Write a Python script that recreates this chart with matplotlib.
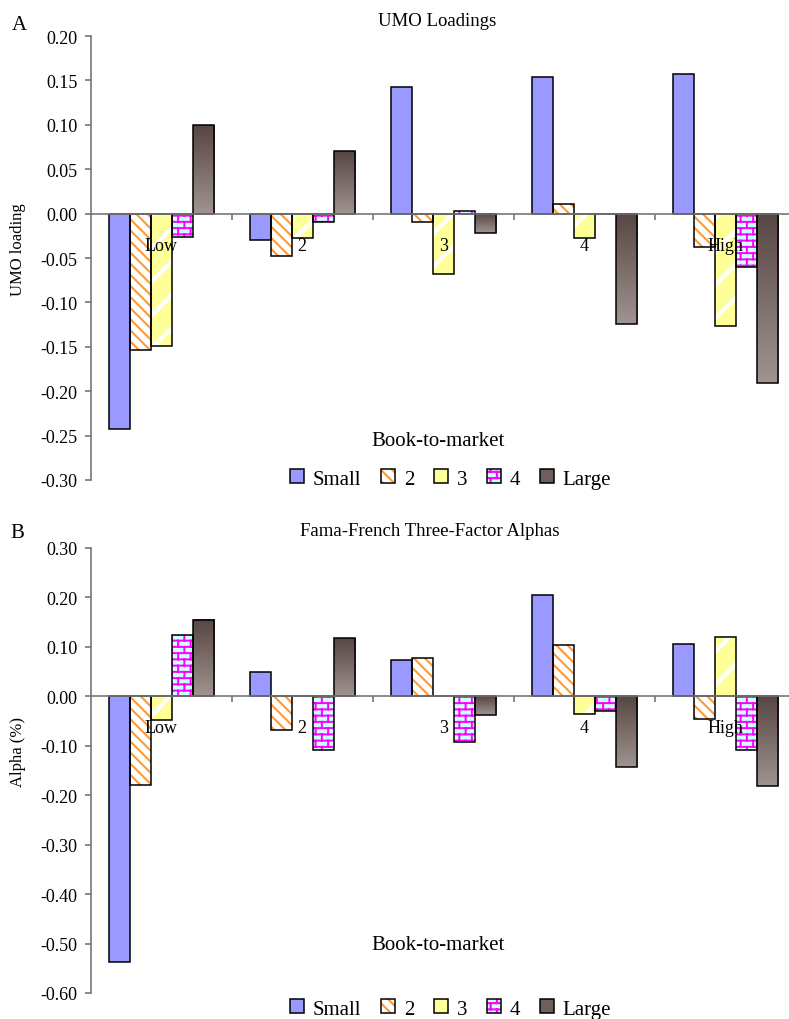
import warnings
warnings.filterwarnings('ignore')
import numpy as np
import matplotlib
matplotlib.use('Agg')
import matplotlib.pyplot as plt
from matplotlib import hatch as mhatch
from matplotlib.path import Path
from matplotlib.patches import Patch
from matplotlib.legend_handler import HandlerTuple
from matplotlib.colors import LinearSegmentedColormap
from matplotlib.ticker import FixedLocator, FuncFormatter, NullFormatter

# ---------------- data ----------------
categories = ['Low', '2', '3', '4', 'High']
series_names = ['Small', '2', '3', '4', 'Large']

umo_small = [-0.243, -0.030, 0.143, 0.154, 0.157]
umo_2 = [-0.154, -0.048, -0.010, 0.011, -0.038]
umo_3 = [-0.149, -0.028, -0.068, -0.028, -0.127]
umo_4 = [-0.026, -0.009, 0.003, 0.000, -0.060]
umo_large = [0.100, 0.070, -0.022, -0.124, -0.191]

alpha_small = [-0.537, 0.049, 0.073, 0.205, 0.106]
alpha_2 = [-0.179, -0.069, 0.078, 0.103, -0.046]
alpha_3 = [-0.047, 0.000, 0.000, -0.036, 0.120]
alpha_4 = [0.125, -0.108, -0.093, -0.029, -0.108]
alpha_large = [0.154, 0.117, -0.037, -0.142, -0.181]

umo_ticks = [-0.30, -0.25, -0.20, -0.15, -0.10, -0.05, 0.00, 0.05, 0.10, 0.15, 0.20]
alpha_ticks = [-0.60, -0.50, -0.40, -0.30, -0.20, -0.10, 0.00, 0.10, 0.20, 0.30]

# ---------------- brick hatch ----------------
class BrickHatch(mhatch.HatchPatternBase):
    def __init__(self, hatch, density):
        self.segs = []
        if 'b' in hatch:
            n = 16
            h = 1.0 / n
            w = 2 * h
            m = n // 2
            for i in range(n):
                y = (i + 0.5) * h
                self.segs.append(((0.0, y), (1.0, y)))
                ya, yb = y, y + h
                for j in range(m):
                    xv = (j + 0.25 + 0.5 * (i % 2)) * w
                    if yb <= 1.0:
                        self.segs.append(((xv, ya), (xv, yb)))
                    else:
                        self.segs.append(((xv, ya), (xv, 1.0)))
                        self.segs.append(((xv, 0.0), (xv, yb - 1.0)))
        self.num_vertices = 2 * len(self.segs)

    def set_vertices_and_codes(self, vertices, codes):
        for k, (a, b) in enumerate(self.segs):
            vertices[2 * k] = a
            vertices[2 * k + 1] = b
            codes[2 * k] = Path.MOVETO
            codes[2 * k + 1] = Path.LINETO

mhatch._hatch_types.append(BrickHatch)

plt.rcParams['font.family'] = ['Liberation Serif', 'DejaVu Serif']
plt.rcParams['hatch.linewidth'] = 1.5

W, H = 789, 1020
fig = plt.figure(figsize=(W / 100, H / 100), dpi=100)

AXIS_COL = '#777777'
EDGE = 'black'
LW = 1.1
large_cmap = LinearSegmentedColormap.from_list('lg', ['#564644', '#a09390'])

# style per hatched series: face, hatch colour, hatch, hatch linewidth
hatch_styles = [('white', '#FF9933', '\\\\\\', 1.5),
                ('#FFFF99', 'white', '/', 3.0),
                ('#CCFFFF', '#FF00FF', 'b', 1.4)]


def set_hlw(artists, lw):
    for p in artists:
        if hasattr(p, 'set_hatch_linewidth'):
            p.set_hatch_linewidth(lw)


def hatched_bars(ax, x, vals, w, face, hcol, hatch, hlw):
    with plt.rc_context({'hatch.linewidth': hlw}):
        b1 = ax.bar(x, vals, w, color=face, edgecolor=hcol, linewidth=0,
                    hatch=hatch, zorder=1)
    set_hlw(b1, hlw)
    b2 = ax.bar(x, vals, w, fill=False, edgecolor=EDGE, linewidth=LW, zorder=2)
    return b1, b2


def legend_handles():
    hs = [Patch(facecolor='#9999FF', edgecolor=EDGE, linewidth=LW)]
    for face, hcol, hatch, hlw in hatch_styles:
        with plt.rc_context({'hatch.linewidth': hlw}):
            p1 = Patch(facecolor=face, edgecolor=hcol, linewidth=0, hatch=hatch)
        set_hlw([p1], hlw)
        p2 = Patch(fill=False, edgecolor=EDGE, linewidth=LW)
        hs.append((p1, p2))
    hs.append(Patch(facecolor='#6f5f5c', edgecolor=EDGE, linewidth=LW))
    return hs


def draw_panel(rect, series, ylim, yticks):
    ax = fig.add_axes(rect)
    x = np.arange(len(categories))
    w = 0.149
    offs = (np.arange(5) - 2) * w
    ax.bar(x + offs[0], series[0], w, color='#9999FF', edgecolor=EDGE,
           linewidth=LW, zorder=2)
    for k, (face, hcol, hatch, hlw) in enumerate(hatch_styles):
        hatched_bars(ax, x + offs[k + 1], series[k + 1], w, face, hcol, hatch, hlw)
    bl = ax.bar(x + offs[4], series[4], w, facecolor='none', edgecolor=EDGE,
                linewidth=LW, zorder=2)
    grad = np.linspace(0, 1, 256).reshape(-1, 1)
    for p in bl:
        x0, x1 = p.get_x(), p.get_x() + p.get_width()
        y0 = min(p.get_y(), p.get_y() + p.get_height())
        y1 = max(p.get_y(), p.get_y() + p.get_height())
        if y1 - y0 <= 0:
            continue
        ax.imshow(grad, extent=[x0, x1, y0, y1], aspect='auto',
                  cmap=large_cmap, origin='upper', zorder=1.5, clip_path=p,
                  interpolation='bilinear')

    ax.set_xlim(-0.5, 4.5)
    ax.set_ylim(*ylim)
    for s in ['top', 'right']:
        ax.spines[s].set_visible(False)
    ax.spines['left'].set_color(AXIS_COL)
    ax.spines['left'].set_linewidth(1.2)
    ax.spines['bottom'].set_position(('data', 0))
    ax.spines['bottom'].set_color(AXIS_COL)
    ax.spines['bottom'].set_linewidth(1.2)
    ax.set_yticks(yticks)
    ax.yaxis.set_major_formatter(FuncFormatter(lambda v, p: f'{v:.2f}'))
    ax.tick_params(axis='y', direction='out', length=4, width=1.2,
                   color=AXIS_COL, labelsize=13, pad=5.5)
    ax.xaxis.set_major_locator(FixedLocator([0.5, 1.5, 2.5, 3.5]))
    ax.xaxis.set_major_formatter(NullFormatter())
    ax.xaxis.set_minor_locator(FixedLocator(list(x)))
    ax.set_xticklabels(categories, minor=True)
    ax.tick_params(axis='x', which='major', direction='out', length=4,
                   width=1.2, color=AXIS_COL)
    ax.tick_params(axis='x', which='minor', length=0, labelsize=13, pad=16.5)
    ax.set_facecolor('none')
    return ax


def fy(py):
    return 1 - py / H


left = 90.7 / W
width = (795.7 - 90.7) / W
axA = draw_panel([left, fy(481), width, (481 - 37) / H],
                 [umo_small, umo_2, umo_3, umo_4, umo_large],
                 (-0.30, 0.20), umo_ticks)
axB = draw_panel([left, fy(994), width, (994 - 549) / H],
                 [alpha_small, alpha_2, alpha_3, alpha_4, alpha_large],
                 (-0.60, 0.30), alpha_ticks)

# texts
fig.text(19 / W, fy(25), 'A', fontsize=15, ha='center', va='center')
fig.text(17 / W, fy(533), 'B', fontsize=15, ha='center', va='center')
fig.text(437 / W, fy(22), 'UMO Loadings', fontsize=13.5, ha='center', va='center')
fig.text(430 / W, fy(531), 'Fama-French Three-Factor Alphas', fontsize=13.5,
         ha='center', va='center')
fig.text(18 / W, fy(250), 'UMO loading', fontsize=12, rotation=90,
         ha='center', va='center')
fig.text(18 / W, fy(752), 'Alpha (%)', fontsize=12, rotation=90,
         ha='center', va='center')
fig.text(438 / W, fy(442), 'Book-to-market', fontsize=15, ha='center', va='center')
fig.text(438 / W, fy(946), 'Book-to-market', fontsize=15, ha='center', va='center')

for yc in [480, 1010]:
    fig.legend(legend_handles(), series_names, loc='center',
               bbox_to_anchor=(450.5 / W, fy(yc)),
               ncol=5, frameon=False, fontsize=15, handlelength=0.67,
               handleheight=0.67, handletextpad=0.42, columnspacing=0.95,
               borderpad=0, borderaxespad=0,
               handler_map={tuple: HandlerTuple(ndivide=1, pad=0)})

fig.savefig('out.png', dpi=100)
